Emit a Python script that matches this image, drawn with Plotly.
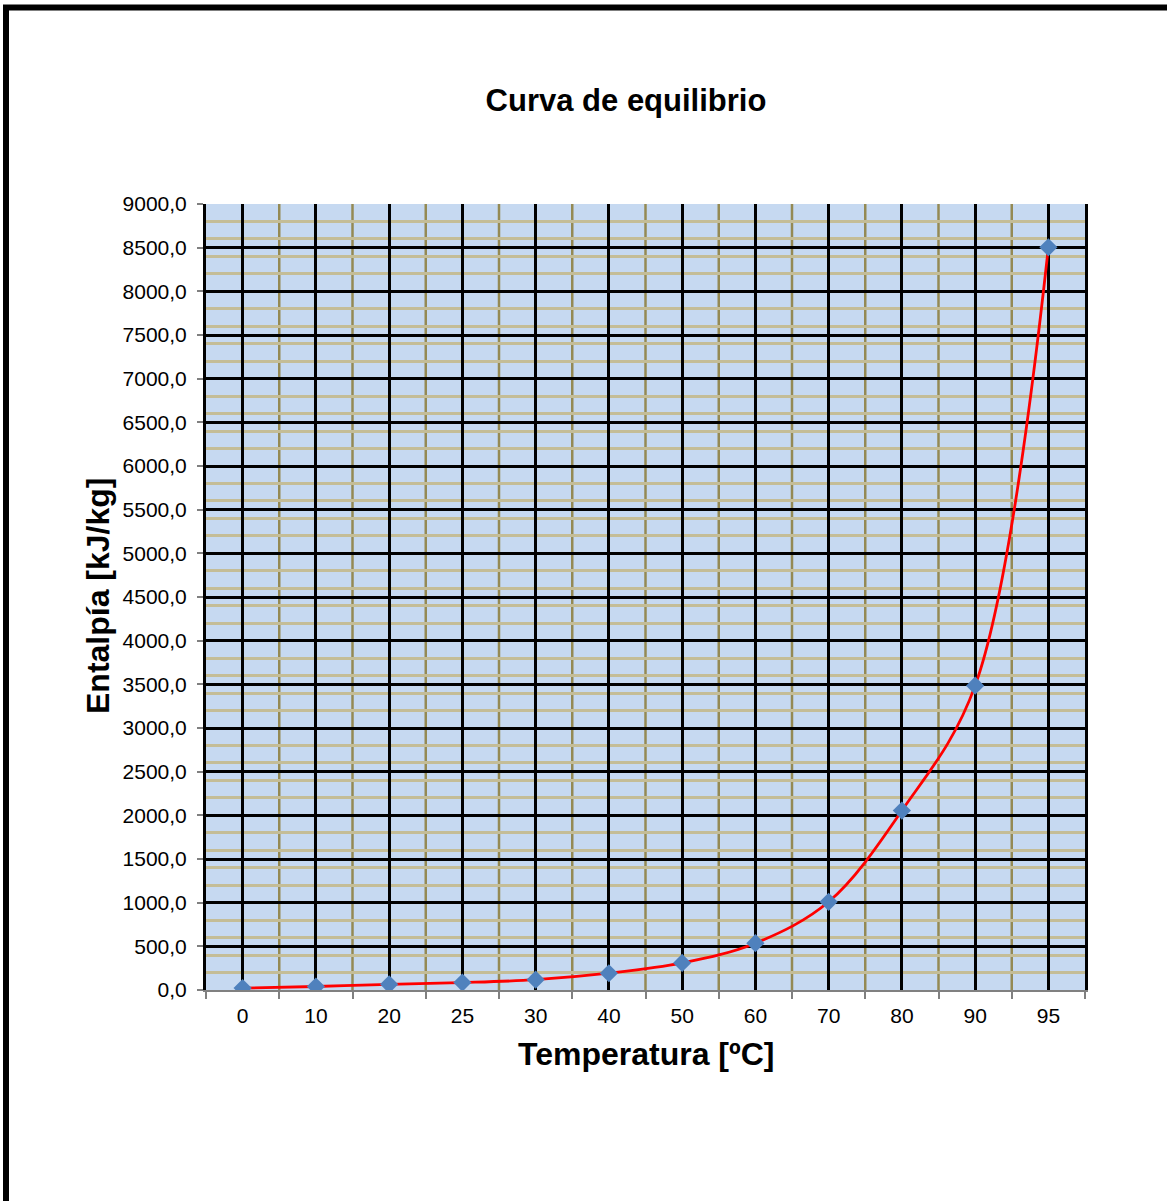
import plotly.graph_objects as go

categories = ["0", "10", "20", "25", "30", "40", "50", "60", "70", "80", "90", "95"]
enthalpy = [22, 40, 65, 85, 118, 192, 310, 536, 1010, 2055, 3485, 8505]
y_ticks = list(range(0, 9001, 500))
y_minor = [v for v in range(0, 9001, 200) if v % 500 != 0]

W, H = 1167, 1201
L, R, T, B = 206, 82, 204, 211
pw, ph = W - L - R, H - T - B

xpos = list(range(len(categories)))
bounds = [i - 0.5 for i in range(len(categories) + 1)]

fig = go.Figure()
fig.add_trace(go.Scatter(
    x=xpos, y=enthalpy, mode="lines+markers",
    line=dict(color="#ff0000", width=2.8, shape="spline", smoothing=1),
    marker=dict(symbol="diamond", size=14, color="#4f81bd"),
    showlegend=False, hoverinfo="skip",
))

font = "Liberation Sans"
shapes = [
    dict(type="line", xref="x", yref="paper", x0=b, x1=b, y0=0, y1=1,
         line=dict(color="#948a54", width=2.5), layer="between")
    for b in bounds[1:-1]
]
shapes.append(
    dict(type="rect", xref="paper", yref="paper",
         x0=(6 - L) / pw, x1=1.5, y0=-0.6, y1=1 + (T - 7.5) / ph,
         line=dict(color="black", width=6), fillcolor="rgba(0,0,0,0)",
         layer="above")
)

fig.update_layout(
    width=W, height=H,
    margin=dict(l=L, r=R, t=T, b=B),
    paper_bgcolor="white",
    plot_bgcolor="#c6d9f1",
    separators=",.",
    font=dict(family=font, color="black", size=21),
    title=dict(text="<b>Curva de equilibrio</b>", xref="container", yref="container",
               x=626 / W, y=1 - 100 / H, xanchor="center", yanchor="middle",
               font=dict(size=31, family=font, color="black")),
    xaxis=dict(
        range=[-0.5, len(categories) - 0.5],
        tickmode="array", tickvals=xpos, ticktext=categories,
        ticks="", showgrid=True, gridcolor="black", gridwidth=2.5,
        zeroline=False, showline=True, linecolor="#808080", linewidth=2,
        tickfont=dict(size=21, family=font, color="black"),
        ticklabelstandoff=6,
        minor=dict(tickmode="array", tickvals=bounds, ticks="outside", ticklen=7,
                   tickcolor="#808080", tickwidth=2, showgrid=False),
        fixedrange=True,
    ),
    yaxis=dict(
        range=[0, 9000], tickmode="array", tickvals=y_ticks,
        ticktext=[f"{v:.1f}".replace(".", ",") for v in y_ticks],
        ticks="outside", ticklen=6, tickcolor="#808080", tickwidth=2,
        showgrid=True, gridcolor="black", gridwidth=2.5,
        zeroline=False, showline=True, linecolor="black", linewidth=3, mirror=True,
        tickfont=dict(size=21, family=font, color="black"),
        ticklabelstandoff=6,
        minor=dict(tickmode="array", tickvals=y_minor, ticks="",
                   showgrid=True, gridcolor="#c4bd97", gridwidth=2.5),
        fixedrange=True,
    ),
    annotations=[
        dict(text="<b>Temperatura [ºC]</b>", xref="paper", yref="paper",
             x=0.5, y=(990 - 1054) / ph, xanchor="center", yanchor="middle",
             showarrow=False, font=dict(size=32, family=font, color="black")),
        dict(text="<b>Entalpía [kJ/kg]</b>", xref="paper", yref="paper",
             x=(98 - L) / pw, y=(990 - 596) / ph, xanchor="center", yanchor="middle",
             textangle=-90, showarrow=False,
             font=dict(size=32, family=font, color="black")),
    ],
    shapes=shapes,
)

fig.write_html("out.html")
